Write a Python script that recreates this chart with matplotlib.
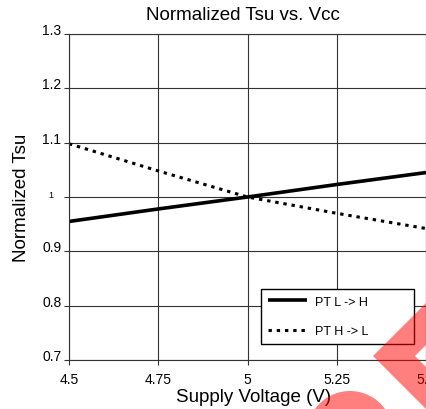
import matplotlib.pyplot as plt
from matplotlib.patches import Polygon, Ellipse

plt.rcParams['font.family'] = ['Liberation Sans', 'DejaVu Sans']

# supply voltage sweep and normalized setup time
vcc = [4.5, 4.75, 5.0, 5.25, 5.5]
tsu_lh = [0.955, 0.978, 1.0, 1.023, 1.045]
tsu_hl = [1.098, 1.048, 1.0, 0.970, 0.942]

xticks = [4.5, 4.75, 5.0, 5.25, 5.5]
xtick_labels = ['4.5', '4.75', '5', '5.25', '5.5']
yticks = [0.7, 0.8, 0.9, 1.0, 1.1, 1.2, 1.3]
ytick_labels = ['0.7', '0.8', '0.9', '1', '1.1', '1.2', '1.3']

W, H = 426, 410
fig = plt.figure(figsize=(W / 100, H / 100), dpi=100)
ax = fig.add_axes([69 / W, 1 - 361 / H, 357 / W, 326 / H])

ax.plot(vcc, tsu_lh, color='black', lw=2.6, solid_capstyle='butt',
        label='PT L -> H')
ax.plot(vcc, tsu_hl, color='black', lw=2.2, linestyle=(0, (1.1, 1.6)),
        dash_capstyle='butt', label='PT H -> L')

ax.set_xlim(4.5, 5.5)
ax.set_ylim(0.7, 1.3)
ax.set_xticks(xticks, xtick_labels)
ax.set_yticks(yticks, ytick_labels)
ax.grid(True, color='#333333', lw=0.8)
ax.set_axisbelow(True)
for sp in ax.spines.values():
    sp.set_color('#333333')
    sp.set_linewidth(0.8)
ax.tick_params(direction='out', length=3.5, width=0.8, color='#333333',
               labelsize=10)
ax.tick_params(axis='x', pad=5)
ax.tick_params(axis='y', pad=2)
for lbl in ax.get_yticklabels():
    lbl.set_va('baseline')
one = ax.yaxis.get_major_ticks()[3]
one.label1.set_fontsize(6.5)
one.set_pad(8)

leg = ax.legend(loc='lower left', bbox_to_anchor=(0.538, 0.049, 0.428, 0.172),
                mode='expand', fontsize=9, fancybox=False, framealpha=1,
                edgecolor='black', handlelength=3.1, handletextpad=0.7,
                borderpad=0.55, labelspacing=1.4, borderaxespad=0)
leg.get_frame().set_linewidth(1.0)

ax.set_xlabel('Supply Voltage (V)', fontsize=13.5)
ax.xaxis.set_label_coords(0.518, -0.085)
ax.set_ylabel('Normalized Tsu', fontsize=13.5)
ax.yaxis.set_label_coords(-0.108, 0.5)

fig.text(243 / W, 1 - 20 / H, 'Normalized Tsu vs. Vcc', ha='center',
         va='baseline', fontsize=13.5)


# red stamp in the lower right corner
def fxy(x, y):
    return (x / W, 1 - y / H)


chevron = [(373, 357), (453, 277), (495, 277), (415, 357), (495, 437), (453, 437)]
fig.add_artist(Polygon([fxy(x, y) for x, y in chevron], closed=True,
                       transform=fig.transFigure, facecolor='red', alpha=0.5,
                       edgecolor='none', zorder=10))
fig.add_artist(Ellipse(fxy(350, 435), 86 / W, 86 / H, transform=fig.transFigure,
                       facecolor='red', alpha=0.5, edgecolor='none', zorder=10))

fig.savefig('out.png', dpi=100)
